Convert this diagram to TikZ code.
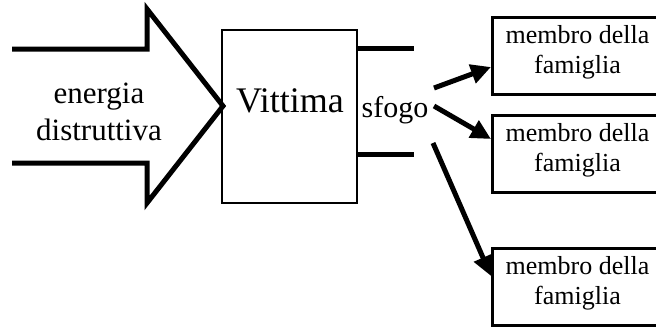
\documentclass[tikz,border=0pt]{standalone}
\usepackage{fontspec}
\setmainfont{Liberation Serif}
\usetikzlibrary{arrows.meta}
\begin{document}
\begin{tikzpicture}[x=1bp,y=-1bp,
  thick line/.style={line width=5bp},
  famarrow/.style={line width=5bp,-{Triangle[length=20bp,width=19bp]}},
  fambox/.style={draw,line width=2.5bp,minimum width=200bp,minimum height=77bp,anchor=north west,inner sep=0pt},
  famtext/.style={align=center,font=\fontsize{26bp}{30bp}\selectfont,inner sep=0pt}]
\clip (0,0) rectangle (656,326);
\useasboundingbox (0,0) rectangle (656,326);
% big input arrow
\draw[thick line,miter limit=10] (12,49) -- (147,49) -- (147,9) -- (223,106) -- (147,203) -- (147,163) -- (12,163);
\node[align=center,font=\fontsize{31bp}{37bp}\selectfont,inner sep=0pt] (energia) at (99,112) {energia\\distruttiva};
% victim box
\node[draw,line width=2bp,minimum width=135bp,minimum height=173bp,inner sep=0pt] (vittima) at (289.5,116.5) {};
\node[font=\fontsize{36bp}{40bp}\selectfont,inner sep=0pt,anchor=base] (vt) at (290,112) {Vittima};
\coordinate (o1) at (357,48);
\coordinate (o1e) at (414,48);
\coordinate (o2) at (357,154);
\coordinate (o2e) at (414,154);
\draw[thick line] (o1) -- (o1e);
\draw[thick line] (o2) -- (o2e);
\node[font=\fontsize{30bp}{34bp}\selectfont,inner sep=0pt,anchor=base] (sfogo) at (395,117) {sfogo};
% family boxes
\node[fambox] (f1) at (491,16) {};
\node[fambox] (f2) at (491,114) {};
\node[fambox] (f3) at (491,247) {};
\node[famtext] at (577.5,52) {membro della\\famiglia};
\node[famtext] at (577.5,150) {membro della\\famiglia};
\node[famtext] at (577.5,283) {membro della\\famiglia};
% arrows
\coordinate (a1s) at (434,88);
\coordinate (a2s) at (434,106);
\coordinate (a3s) at (433,143);
\draw[famarrow] (a1s) -- (f1.west |- 0,67);
\draw[famarrow] (a2s) -- (f2.west |- 0,139);
\draw[famarrow] (a3s) -- (f3.west |- 0,276);
\end{tikzpicture}
\end{document}
